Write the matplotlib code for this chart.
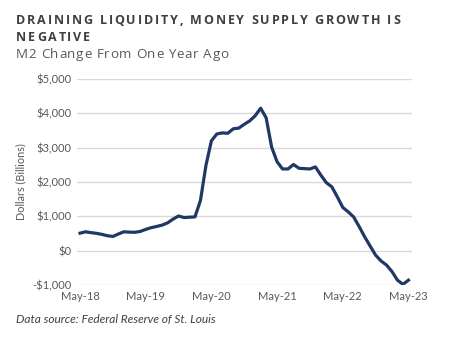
import matplotlib
matplotlib.use("Agg")
import matplotlib.pyplot as plt
import numpy as np

# M2 year-over-year change, $ billions, monthly May-18 .. May-23
m2_change = [
    510, 550, 525, 505, 475, 435, 415, 485, 550, 540, 535, 560,   # May-18 .. Apr-19
    620, 670, 705, 745, 810, 920, 1010, 965, 975, 985, 1460, 2480,  # May-19 .. Apr-20
    3200, 3400, 3430, 3420, 3550, 3570, 3680, 3780, 3930, 4150, 3870, 3020,  # May-20 .. Apr-21
    2590, 2380, 2380, 2510, 2400, 2390, 2380, 2440, 2200, 1980, 1860, 1570,  # May-21 .. Apr-22
    1260, 1130, 980, 700, 405, 135, -130, -300, -420, -610, -860, -980,  # May-22 .. Apr-23
    -860,                                                          # May-23
]
tick_labels = ["May-18", "May-19", "May-20", "May-21", "May-22", "May-23"]
y_ticks = [-1000, 0, 1000, 2000, 3000, 4000, 5000]

title_lines = ["DRAINING LIQUIDITY, MONEY SUPPLY GROWTH IS", "NEGATIVE"]
subtitle = "M2 Change From One Year Ago"
source = "Data source: Federal Reserve of St. Louis"

LINE = "#1f3864"
GRID = "#d9d9d9"
TXT = "#595959"

fig = plt.figure(figsize=(4.52, 3.41), dpi=100)
W, H = 452, 341
renderer = fig.canvas.get_renderer()


def spaced_text(x_px, y_px, s, spacing, **kw):
    """Draw s char by char (baseline at y_px, pixels from top) with extra spacing."""
    cx = x_px
    for ch in s:
        t = fig.text(cx / W, 1 - y_px / H, ch, va="baseline", ha="left", **kw)
        if ch == " ":
            probe = fig.text(0, 0, "a a", **kw)
            w = probe.get_window_extent(renderer).width
            probe2 = fig.text(0, 0, "aa", **kw)
            w -= probe2.get_window_extent(renderer).width
            probe.remove(); probe2.remove()
        else:
            w = t.get_window_extent(renderer).width
        cx += w + spacing


title_kw = dict(fontsize=9.0, fontweight="bold", color="#3f3f3f", family="Open Sans")
spaced_text(16, 24, title_lines[0], 1.85, **title_kw)
spaced_text(16, 41, title_lines[1], 1.85, **title_kw)
spaced_text(16, 58, subtitle, 0.65, fontsize=9.6, color=TXT, family="Open Sans")

ax = fig.add_axes([0.1704, 0.1642, 0.7411, 0.6041])

x = np.arange(len(m2_change))
ax.plot(x, m2_change, color=LINE, lw=2.3, solid_joinstyle="round", zorder=3)

ax.set_ylim(-1000, 5000)
ax.set_xlim(-0.55, len(m2_change) - 0.35)
ax.set_yticks(y_ticks)
ax.set_yticklabels([f"-${-v:,}" if v < 0 else f"${v:,}" for v in y_ticks])
ax.set_xticks(np.arange(0, len(m2_change), 12))
ax.set_xticklabels(tick_labels)
ax.grid(axis="y", color=GRID, lw=1.0, zorder=0)
for s in ax.spines.values():
    s.set_visible(False)
ax.tick_params(length=0, labelsize=8, labelcolor=TXT, pad=4)
for lab in ax.get_xticklabels() + ax.get_yticklabels():
    lab.set_family("Lato")
ax.set_ylabel("Dollars (Billions)", fontsize=7.8, color=TXT, family="Lato", labelpad=4)

fig.text(0.035, 0.062, source, fontsize=8.6, style="italic", color="#404040",
         family="Lato", va="center", ha="left")

fig.savefig("out.png", dpi=100)
